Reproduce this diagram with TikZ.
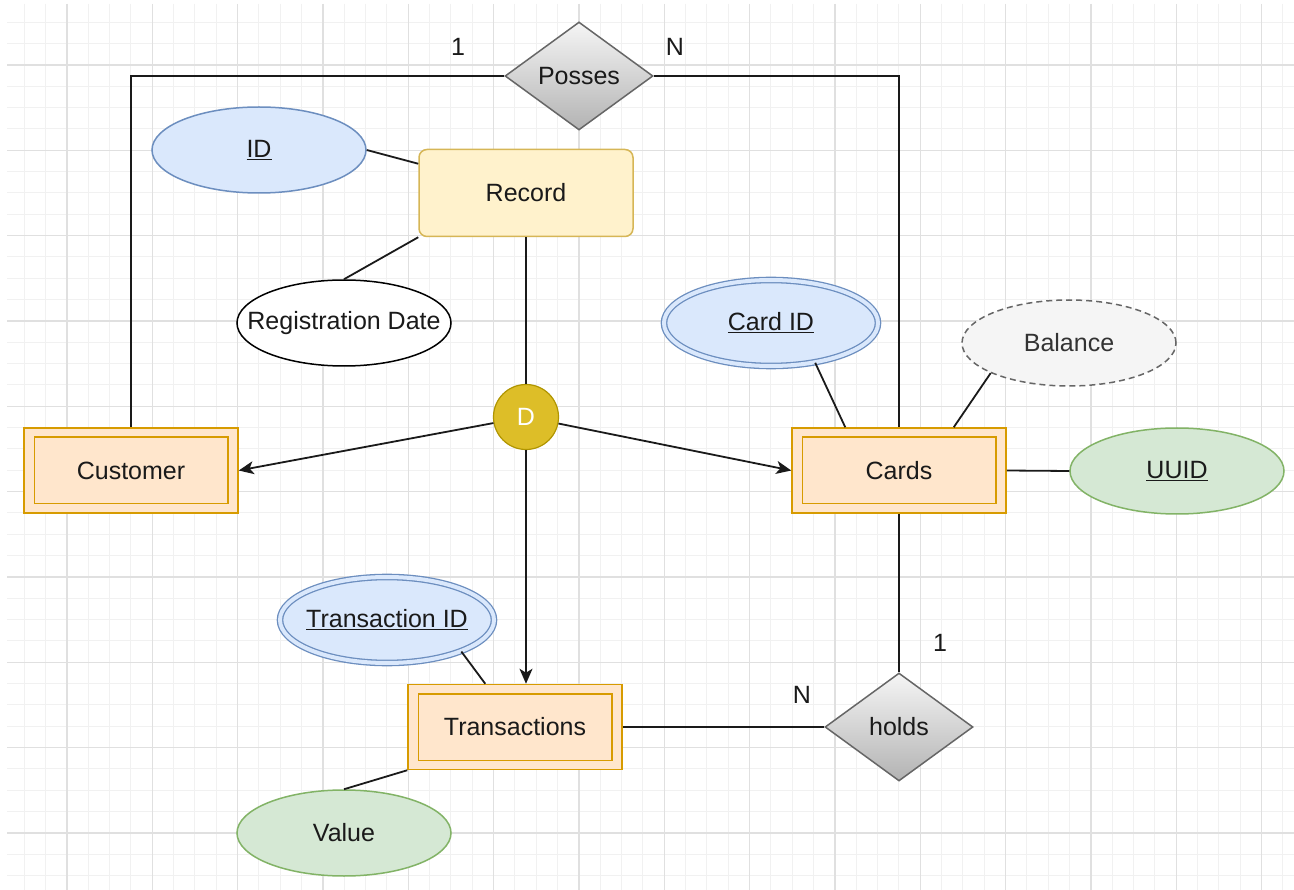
\documentclass[tikz,border=0pt]{standalone}
\usepackage{fontspec}
\setmainfont{Liberation Sans}
\usetikzlibrary{shapes.geometric,arrows.meta}

\definecolor{gridminor}{HTML}{F1F1F1}
\definecolor{gridmajor}{HTML}{E0E0E0}
\definecolor{entfill}{HTML}{FFE6CC}
\definecolor{entline}{HTML}{D79B00}
\definecolor{recfill}{HTML}{FFF2CC}
\definecolor{recline}{HTML}{D6B656}
\definecolor{bluefill}{HTML}{DAE8FC}
\definecolor{blueline}{HTML}{6C8EBF}
\definecolor{greenfill}{HTML}{D5E8D4}
\definecolor{greenline}{HTML}{82B366}
\definecolor{greyfill}{HTML}{F5F5F5}
\definecolor{greyline}{HTML}{666666}
\definecolor{greytext}{HTML}{333333}
\definecolor{relline}{HTML}{666666}
\definecolor{relbottom}{HTML}{B3B3B3}
\definecolor{dfill}{HTML}{DDBE28}
\definecolor{dline}{HTML}{B09500}
\definecolor{ink}{HTML}{1A1A1A}

% zero-width text so that shape sizes come from the minimum sizes only
\newcommand{\mk}[1]{\makebox[0pt][c]{#1}}

\tikzset{
  entity/.style={rectangle, draw=entline, fill=entfill, line width=1.5pt,
    minimum width=214pt, minimum height=85pt, inner sep=0pt, text=ink},
  entinner/.style={draw=entline, line width=1.5pt},
  record/.style={rectangle, rounded corners=8pt, draw=recline, fill=recfill,
    line width=1.5pt, minimum width=214pt, minimum height=87pt, inner sep=0pt, text=ink},
  attr/.style={ellipse, line width=1.5pt, minimum width=214pt, minimum height=86pt,
    inner sep=0pt, text=ink},
  keyattr/.style={attr, draw=blueline, fill=bluefill},
  multiattr/.style={attr, draw=blueline, fill=bluefill, line width=1.3pt,
    double=bluefill, double distance=4pt},
  greenattr/.style={attr, draw=greenline, fill=greenfill},
  plainattr/.style={attr, draw=black, fill=white},
  derived/.style={attr, draw=greyline, fill=greyfill, dashed, dash pattern=on 6pt off 4pt,
    text=greytext},
  relation/.style={diamond, draw=relline, line width=1.5pt, top color=greyfill,
    bottom color=relbottom, minimum width=148pt, minimum height=108pt,
    inner sep=0pt, text=ink},
  disjoint/.style={circle, draw=dline, fill=dfill, line width=1.2pt,
    minimum size=65pt, inner sep=0pt, text=white},
  card/.style={text=ink, inner sep=0pt},
  link/.style={draw=ink, line width=1.8pt},
  isa/.style={link, -{Stealth[length=15pt, width=13pt, inset=4pt]}},
  gminor/.style={draw=gridminor, line width=1pt},
  gmajor/.style={draw=gridmajor, line width=1.3pt}
}

\begin{document}
\begin{tikzpicture}[x=1pt, y=-1pt, font=\fontsize{25}{30}\selectfont]
\useasboundingbox (0,0) rectangle (1294,890);
\fill[white] (0,0) rectangle (1294,890);

% background grid
\begin{scope}
  \clip (7,4) rectangle (1294,890);
  \foreach \i in {2,...,61} {
    \pgfmathsetmacro\gx{-18.333+21.333*\i}
    \pgfmathtruncatemacro\mm{mod(\i,4)}
    \ifnum\mm=0 \else \draw[gminor] (\gx,4) -- (\gx,890); \fi
  }
  \foreach \j in {2,...,42} {
    \pgfmathsetmacro\gy{-20.333+21.333*\j}
    \pgfmathtruncatemacro\mm{mod(\j,4)}
    \ifnum\mm=0 \else \draw[gminor] (7,\gy) -- (1294,\gy); \fi
  }
  \foreach \i in {4,8,...,60} {
    \pgfmathsetmacro\gx{-18.333+21.333*\i}
    \draw[gmajor] (\gx,4) -- (\gx,890);
  }
  \foreach \j in {4,8,...,40} {
    \pgfmathsetmacro\gy{-20.333+21.333*\j}
    \draw[gmajor] (7,\gy) -- (1294,\gy);
  }
\end{scope}

% nodes
\node[relation] (posses) at (579,76) {\mk{Posses}};
\node[keyattr] (id) at (259,150) {\mk{\underline{ID}}};
\node[record] (rec) at (526,193) {\mk{Record}};
\node[plainattr] (reg) at (344,323) {\mk{Registration Date}};
\node[multiattr] (cid) at (771,323) {\mk{\underline{Card ID}}};
\node[derived] (bal) at (1069,343) {\mk{Balance}};
\node[disjoint] (d) at (526,417) {\mk{D}};
\node[entity] (cust) at (131,470.5) {\mk{Customer}};
\node[entity] (cards) at (899,470.5) {\mk{Cards}};
\node[greenattr] (uuid) at (1177,471) {\mk{\underline{UUID}}};
\node[multiattr] (tid) at (387,620) {\mk{\underline{Transaction ID}}};
\node[entity] (trans) at (515,727) {\mk{Transactions}};
\node[relation] (holds) at (899,727) {\mk{holds}};
\node[greenattr] (val) at (344,833) {\mk{Value}};

% inner frames of the weak entities
\foreach \n in {cust,cards,trans}
  \draw[entinner] ([xshift=11pt,yshift=-10pt]\n.north west) rectangle ([xshift=-11pt,yshift=10pt]\n.south east);

% cardinalities
\node[card] (c1) at (458,47) {1};
\node[card] (cN) at (675,47) {N};
\node[card] (h1) at (940,643) {1};
\node[card] (hN) at (802,695) {N};

% relationship lines
\draw[link] (posses.west) -| (cust.north);
\draw[link] (posses.east) -| (cards.north);
\draw[link] (cards.south) -- (holds.north);
\draw[link] (trans.east) -- (holds.west);

% attribute lines
\draw[link] (id.east) -- ([yshift=-15pt]rec.north west);
\draw[link] (rec.south west) -- (reg.north);
\draw[link] (cid.318) -- ([xshift=54pt]cards.north west);
\draw[link] (bal.201) -- ([xshift=-53pt]cards.north east);
\draw[link] (cards.east) -- (uuid.west);
\draw[link] (tid.-23) -- ([xshift=78pt]trans.north west);
\draw[link] (val.north) -- (trans.south west);

% specialisation
\draw[link] (rec.south) -- (d);
\draw[isa] (d) -- (cust.east);
\draw[isa] (d) -- (cards.west);
\draw[isa] (d) -- (trans.north -| d);
\end{tikzpicture}
\end{document}
